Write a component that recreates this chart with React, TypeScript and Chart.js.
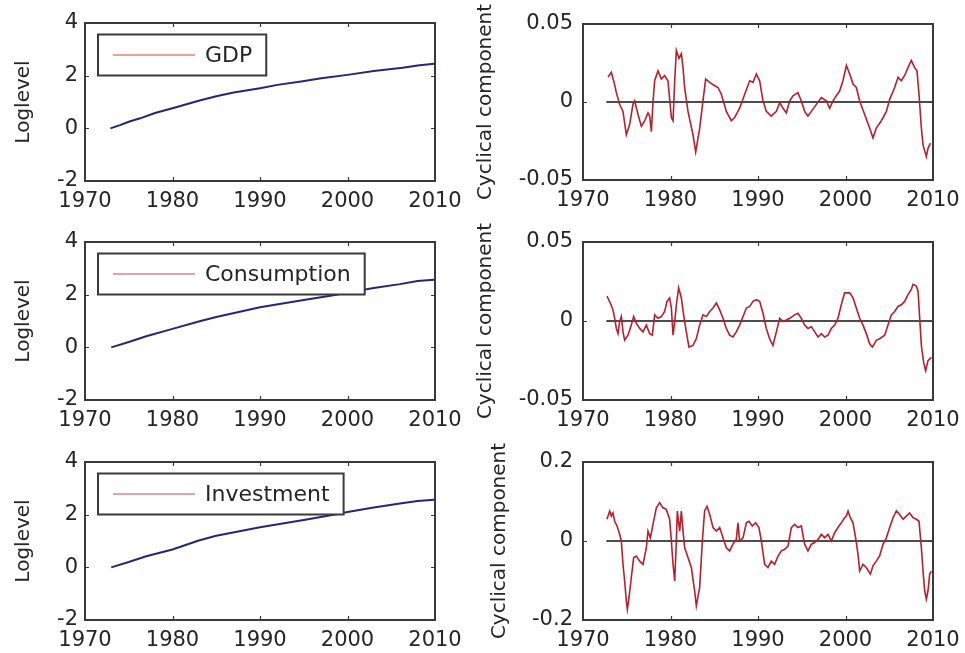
import React, { useEffect, useRef } from "react";
import { Chart, registerables } from "chart.js";
Chart.register(...registerables);

// ---------- data ----------
const xTickValues = [1970, 1980, 1990, 2000, 2010];

const gdpLevelYears = [1972.9, 1974, 1975, 1976.3, 1978, 1980, 1982, 1983.1, 1985, 1987, 1990, 1992, 1994.7, 1997, 2000, 2003, 2006.3, 2008, 2009.9];
const gdpLevel = [0, 0.12, 0.25, 0.38, 0.58, 0.76, 0.95, 1.06, 1.22, 1.36, 1.52, 1.65, 1.78, 1.9, 2.03, 2.18, 2.3, 2.39, 2.45];

const consLevelYears = [1973, 1975, 1977, 1980, 1983, 1985, 1990, 1995, 1998.4, 2000, 2003, 2006, 2008, 2009.9];
const consLevel = [0, 0.2, 0.42, 0.7, 0.98, 1.15, 1.52, 1.8, 1.98, 2.08, 2.25, 2.4, 2.52, 2.57];

const invLevelYears = [1973, 1975, 1977, 1980, 1983, 1985, 1990, 1995, 1998.4, 2000, 2003, 2006, 2008, 2009.9];
const invLevel = [0, 0.2, 0.42, 0.68, 1.02, 1.2, 1.52, 1.8, 2.0, 2.1, 2.27, 2.42, 2.52, 2.57];

const gdpCycleYears = [1972.86, 1973.24, 1973.62, 1973.81, 1974.19, 1974.57, 1974.95, 1975.33, 1975.71, 1975.9, 1976.29, 1976.67, 1977.05, 1977.43, 1977.62, 1977.81, 1978.0, 1978.19, 1978.57, 1978.95, 1979.33, 1979.71, 1980.1, 1980.29, 1980.48, 1980.67, 1980.97, 1981.24, 1981.43, 1981.62, 1982.0, 1982.57, 1982.88, 1983.33, 1983.71, 1984.02, 1984.48, 1985.05, 1985.43, 1985.81, 1986.38, 1986.95, 1987.33, 1987.9, 1988.48, 1989.05, 1989.43, 1989.81, 1990.19, 1990.57, 1990.95, 1991.52, 1992.1, 1992.48, 1992.86, 1993.24, 1993.62, 1994.0, 1994.57, 1994.95, 1995.33, 1995.71, 1996.1, 1996.67, 1997.24, 1997.81, 1998.19, 1998.57, 1998.95, 1999.33, 1999.71, 2000.1, 2000.48, 2000.86, 2001.24, 2001.62, 2002.19, 2002.76, 2003.14, 2003.52, 2004.1, 2004.67, 2005.05, 2005.62, 2006.0, 2006.38, 2006.76, 2007.14, 2007.52, 2007.9, 2008.17, 2008.4, 2008.67, 2008.86, 2009.24, 2009.43, 2009.7];
const gdpCycle = [0.016, 0.019, 0.011, 0.006, -0.0015, -0.006, -0.021, -0.0145, -0.0015, 0.0007, -0.008, -0.0156, -0.012, -0.007, -0.009, -0.019, 0, 0.0136, 0.02, 0.0147, 0.017, 0.0136, -0.01, -0.012, 0.0136, 0.033, 0.028, 0.031, 0.022, 0.009, -0.006, -0.021, -0.032, -0.017, 0.0007, 0.0147, 0.0126, 0.0104, 0.0093, 0.005, -0.006, -0.012, -0.01, -0.004, 0.005, 0.0136, 0.0126, 0.018, 0.0136, 0.0007, -0.006, -0.009, -0.006, -0.0005, -0.004, -0.007, 0.0007, 0.004, 0.006, 0.0007, -0.006, -0.009, -0.006, -0.0015, 0.0028, 0.0007, -0.004, 0.0007, 0.004, 0.007, 0.0136, 0.0234, 0.018, 0.0115, 0.0093, 0.0007, -0.008, -0.0167, -0.023, -0.0167, -0.012, -0.006, 0.0017, 0.0093, 0.0158, 0.0136, 0.017, 0.022, 0.0266, 0.022, 0.02, 0.005, -0.0167, -0.0275, -0.035, -0.0297, -0.0264];

const consCycleYears = [1972.74, 1973.12, 1973.43, 1973.62, 1973.81, 1974.0, 1974.19, 1974.38, 1974.57, 1974.76, 1975.14, 1975.52, 1975.79, 1976.1, 1976.48, 1976.86, 1977.24, 1977.62, 1977.92, 1978.19, 1978.57, 1978.95, 1979.33, 1979.6, 1979.9, 1980.1, 1980.29, 1980.48, 1980.67, 1980.93, 1981.24, 1981.5, 1981.81, 1982.11, 1982.57, 1982.95, 1983.33, 1983.71, 1984.1, 1984.48, 1984.86, 1985.24, 1985.62, 1986.0, 1986.38, 1986.76, 1987.14, 1987.52, 1987.9, 1988.29, 1988.67, 1989.05, 1989.43, 1989.81, 1990.19, 1990.57, 1990.95, 1991.33, 1991.71, 1992.1, 1992.48, 1992.86, 1993.24, 1993.62, 1994.19, 1994.57, 1994.95, 1995.33, 1995.71, 1996.1, 1996.48, 1996.86, 1997.24, 1997.62, 1998.0, 1998.38, 1998.76, 1999.14, 1999.52, 1999.9, 2000.48, 2000.86, 2001.24, 2001.62, 2002.0, 2002.38, 2002.76, 2003.07, 2003.52, 2003.9, 2004.48, 2004.86, 2005.24, 2005.62, 2006.0, 2006.38, 2006.76, 2007.14, 2007.52, 2007.71, 2008.1, 2008.29, 2008.48, 2008.67, 2008.93, 2009.16, 2009.43, 2009.81];
const consCycle = [0.0157, 0.0114, 0.007, 0.0017, -0.0047, -0.008, -0.0004, 0.0028, -0.0069, -0.0122, -0.009, -0.0026, 0.0028, -0.0015, -0.0047, -0.0069, -0.0026, -0.008, -0.009, 0.0039, 0.0017, 0.0028, 0.006, 0.0124, 0.0146, 0.0082, -0.009, -0.0004, 0.0103, 0.021, 0.0146, 0.0039, -0.0069, -0.0165, -0.0155, -0.0112, -0.0026, 0.0039, 0.0028, 0.006, 0.0082, 0.0114, 0.007, 0.0017, -0.0047, -0.009, -0.0101, -0.0069, -0.0026, 0.0028, 0.0082, 0.0092, 0.0124, 0.0135, 0.0124, 0.0049, -0.0047, -0.0112, -0.0155, -0.0069, 0.0017, -0.0004, 0.0006, 0.0017, 0.0039, 0.0049, 0.0017, -0.0026, -0.0047, -0.0036, -0.0069, -0.0101, -0.008, -0.0101, -0.009, -0.0047, -0.0026, 0.0017, 0.0103, 0.0178, 0.0178, 0.0146, 0.0082, 0.0017, -0.0026, -0.008, -0.0144, -0.0165, -0.0122, -0.0112, -0.009, -0.0026, 0.0039, 0.006, 0.0092, 0.0103, 0.0124, 0.0167, 0.02, 0.0232, 0.0221, 0.0189, 0.0017, -0.0155, -0.0262, -0.0315, -0.0251, -0.023];

const invCycleYears = [1972.74, 1973.05, 1973.24, 1973.43, 1973.62, 1973.89, 1974.19, 1974.38, 1974.57, 1974.76, 1974.95, 1975.07, 1975.26, 1975.52, 1975.79, 1976.1, 1976.48, 1976.86, 1977.24, 1977.43, 1977.7, 1978.0, 1978.38, 1978.76, 1979.14, 1979.52, 1979.9, 1980.1, 1980.29, 1980.48, 1980.67, 1980.78, 1981.05, 1981.24, 1981.43, 1981.62, 1982.0, 1982.38, 1982.76, 1982.95, 1983.33, 1983.64, 1983.9, 1984.17, 1984.48, 1984.86, 1985.24, 1985.62, 1986.0, 1986.38, 1986.76, 1987.14, 1987.52, 1987.71, 1987.9, 1988.29, 1988.67, 1988.97, 1989.35, 1989.73, 1990.11, 1990.38, 1990.76, 1991.14, 1991.52, 1991.9, 1992.29, 1992.67, 1993.05, 1993.43, 1993.81, 1994.19, 1994.57, 1994.95, 1995.33, 1995.71, 1996.1, 1996.48, 1996.86, 1997.24, 1997.62, 1998.0, 1998.38, 1998.76, 1999.14, 1999.52, 1999.9, 2000.1, 2000.29, 2000.55, 2000.86, 2001.16, 2001.43, 2001.62, 2002.0, 2002.38, 2002.84, 2003.14, 2003.52, 2003.9, 2004.29, 2004.67, 2005.05, 2005.43, 2005.81, 2006.19, 2006.57, 2006.95, 2007.33, 2007.71, 2008.1, 2008.4, 2008.67, 2008.86, 2009.05, 2009.24, 2009.43, 2009.62, 2009.81];
const invCycle = [0.055, 0.076, 0.063, 0.071, 0.05, 0.038, 0.017, 0, -0.059, -0.101, -0.152, -0.173, -0.143, -0.093, -0.042, -0.038, -0.051, -0.059, -0.017, 0.025, 0.008, 0.042, 0.084, 0.097, 0.084, 0.08, 0.055, 0, -0.059, -0.101, 0, 0.076, 0.025, 0.076, 0.025, -0.017, -0.042, -0.067, -0.126, -0.164, -0.118, 0, 0.076, 0.088, 0.067, 0.034, 0.025, 0.034, 0.008, -0.017, -0.025, -0.008, 0.004, 0.046, 0, 0.008, 0.046, 0.05, 0.038, 0.046, 0.034, 0, -0.059, -0.067, -0.051, -0.059, -0.038, -0.025, -0.021, -0.013, 0.034, 0.042, 0.034, 0.038, -0.008, -0.025, -0.008, -0.004, 0.004, 0.017, 0.008, 0.017, 0, 0.021, 0.034, 0.046, 0.059, 0.063, 0.076, 0.059, 0.046, 0.008, -0.034, -0.076, -0.059, -0.067, -0.084, -0.063, -0.051, -0.038, -0.008, 0.008, 0.034, 0.059, 0.076, 0.067, 0.055, 0.063, 0.071, 0.059, 0.055, 0.05, -0.017, -0.076, -0.126, -0.147, -0.126, -0.084, -0.076];

const zeroLineYears = [1972.67, 2009.92];
const zeroLineValues = [0, 0];

// ---------- styling ----------
const TICK_FONT = { family: "DejaVu Sans", size: 21 };
const TITLE_FONT = { family: "DejaVu Sans", size: 20 };
const TEXT_COLOR = "#262626";
const FRAME_COLOR = "#3a3a3a";
const LEVEL_COLOR = "#262678";
const CYCLE_COLOR = "#b81e2c";

const zip = (xs: number[], ys: number[]) => xs.map((x, i) => ({ x, y: ys[i] }));

const framePlugin = {
  id: "frame",
  afterDraw(chart: any, _args: any, opts: any) {
    const { ctx, chartArea: a, scales } = chart;
    ctx.save();
    ctx.strokeStyle = FRAME_COLOR;
    ctx.lineWidth = 1.2;
    const tl = 4;
    for (const t of scales.x.ticks) {
      const px = Math.round(scales.x.getPixelForValue(t.value)) + 0.5;
      if (px - a.left < 3 || a.right - px < 3) continue;
      ctx.beginPath();
      ctx.moveTo(px, a.bottom);
      ctx.lineTo(px, a.bottom - tl);
      ctx.moveTo(px, a.top);
      ctx.lineTo(px, a.top + tl);
      ctx.stroke();
    }
    for (const t of scales.y.ticks) {
      const py = Math.round(scales.y.getPixelForValue(t.value)) + 0.5;
      if (py - a.top < 3 || a.bottom - py < 3) continue;
      ctx.beginPath();
      ctx.moveTo(a.left, py);
      ctx.lineTo(a.left + tl, py);
      ctx.moveTo(a.right, py);
      ctx.lineTo(a.right - tl, py);
      ctx.stroke();
    }
    if (opts && opts.legend) {
      ctx.font = '22px "DejaVu Sans"';
      const w = ctx.measureText(opts.legend).width;
      const bx = a.left + 13;
      const by = a.top + 11.5;
      const bw = 107 + w + 14;
      const bh = 41;
      ctx.fillStyle = "#ffffff";
      ctx.fillRect(bx, by, bw, bh);
      ctx.lineWidth = 2;
      ctx.strokeStyle = FRAME_COLOR;
      ctx.strokeRect(bx, by, bw, bh);
      ctx.beginPath();
      ctx.strokeStyle = "#d04848";
      ctx.lineWidth = 1.2;
      ctx.moveTo(bx + 15, by + bh / 2);
      ctx.lineTo(bx + 97, by + bh / 2);
      ctx.stroke();
      ctx.fillStyle = TEXT_COLOR;
      ctx.textBaseline = "middle";
      ctx.textAlign = "left";
      ctx.fillText(opts.legend, bx + 107, by + bh / 2 + 1);
    }
    ctx.lineWidth = 2;
    ctx.strokeStyle = FRAME_COLOR;
    ctx.strokeRect(a.left, a.top, a.right - a.left, a.bottom - a.top);
    ctx.restore();
  },
};

type PanelProps = {
  canvasLeft: number;
  canvasTop: number;
  canvasWidth: number;
  canvasHeight: number;
  plotLeft: number;
  plotTop: number;
  plotRight: number;
  plotBottom: number;
  yMin: number;
  yMax: number;
  yStep: number;
  yTickPad: number;
  yTitle: string;
  yTitlePad: number;
  datasets: any[];
  legend?: string;
};

function Panel(p: PanelProps) {
  const ref = useRef<HTMLCanvasElement>(null);
  useEffect(() => {
    const yAxisW = p.plotLeft - p.canvasLeft;
    const xAxisH = p.canvasTop + p.canvasHeight - p.plotBottom;
    const chart = new Chart(ref.current as HTMLCanvasElement, {
      type: "line",
      data: { datasets: p.datasets },
      options: {
        animation: false,
        responsive: false,
        devicePixelRatio: 1,
        layout: {
          padding: {
            left: 0,
            top: p.plotTop - p.canvasTop,
            right: p.canvasLeft + p.canvasWidth - p.plotRight,
            bottom: 0,
          },
        },
        plugins: {
          legend: { display: false },
          tooltip: { enabled: false },
          frame: { legend: p.legend },
        } as any,
        elements: { point: { radius: 0 }, line: { tension: 0 } },
        scales: {
          x: {
            type: "linear",
            min: 1970,
            max: 2010,
            grid: { display: false, drawTicks: false },
            border: { display: false },
            afterBuildTicks: (s: any) => {
              s.ticks = xTickValues.map((v) => ({ value: v }));
            },
            ticks: {
              padding: 8,
              font: TICK_FONT,
              color: TEXT_COLOR,
              maxRotation: 0,
              autoSkip: false,
              callback: (v: any) => String(v),
            },
            afterFit: (s: any) => {
              s.height = xAxisH;
              s.paddingLeft = 0;
              s.paddingRight = 0;
            },
          },
          y: {
            type: "linear",
            min: p.yMin,
            max: p.yMax,
            grid: { display: false, drawTicks: false },
            border: { display: false },
            ticks: {
              stepSize: p.yStep,
              padding: p.yTickPad,
              font: TICK_FONT,
              color: TEXT_COLOR,
              callback: (v: any) => String(Math.round(Number(v) * 1000) / 1000),
            },
            title: {
              display: true,
              text: p.yTitle,
              font: TITLE_FONT,
              color: TEXT_COLOR,
              padding: { top: p.yTitlePad, bottom: 0 },
            },
            afterFit: (s: any) => {
              s.width = yAxisW;
              s.paddingTop = 0;
              s.paddingBottom = 0;
            },
          },
        },
      } as any,
      plugins: [framePlugin as any],
    });
    return () => chart.destroy();
  }, []);
  return (
    <canvas
      ref={ref}
      width={p.canvasWidth}
      height={p.canvasHeight}
      style={{
        position: "absolute",
        left: p.canvasLeft,
        top: p.canvasTop,
        width: p.canvasWidth,
        height: p.canvasHeight,
      }}
    />
  );
}

const levelDataset = (label: string, xs: number[], ys: number[]) => ({
  label,
  data: zip(xs, ys),
  borderColor: LEVEL_COLOR,
  borderWidth: 2,
  pointRadius: 0,
  fill: false,
});

const cycleDatasets = (label: string, xs: number[], ys: number[]) => [
  {
    label,
    data: zip(xs, ys),
    borderColor: CYCLE_COLOR,
    borderWidth: 1.6,
    pointRadius: 0,
    fill: false,
  },
  {
    label: "zero",
    data: zip(zeroLineYears, zeroLineValues),
    borderColor: "#111111",
    borderWidth: 1.5,
    pointRadius: 0,
    fill: false,
  },
];

const rows = [
  { top: 23, bottom: 181, rTop: 24, rBottom: 180, canvasTop: 0 },
  { top: 242, bottom: 400, rTop: 242, rBottom: 400, canvasTop: 218 },
  { top: 462, bottom: 620, rTop: 462, rBottom: 620, canvasTop: 438 },
];

export default function App() {
  const leftData = [
    { legend: "GDP", ds: [levelDataset("GDP", gdpLevelYears, gdpLevel)] },
    { legend: "Consumption", ds: [levelDataset("Consumption", consLevelYears, consLevel)] },
    { legend: "Investment", ds: [levelDataset("Investment", invLevelYears, invLevel)] },
  ];
  const rightData = [
    { ds: cycleDatasets("GDP cycle", gdpCycleYears, gdpCycle), lim: 0.05, titlePad: 4 },
    { ds: cycleDatasets("Consumption cycle", consCycleYears, consCycle), lim: 0.05, titlePad: 4 },
    { ds: cycleDatasets("Investment cycle", invCycleYears, invCycle), lim: 0.2, titlePad: 18 },
  ];
  return (
    <div
      style={{
        position: "fixed",
        left: 0,
        top: 0,
        width: 965,
        height: 653,
        background: "#ffffff",
        overflow: "hidden",
      }}
    >
      {rows.map((r, i) => (
        <React.Fragment key={i}>
          <Panel
            canvasLeft={0}
            canvasTop={r.canvasTop}
            canvasWidth={462}
            canvasHeight={215}
            plotLeft={85}
            plotTop={r.top}
            plotRight={435}
            plotBottom={r.bottom}
            yMin={-2}
            yMax={4}
            yStep={2}
            yTickPad={7}
            yTitle="Loglevel"
            yTitlePad={12}
            datasets={leftData[i].ds}
            legend={leftData[i].legend}
          />
          <Panel
            canvasLeft={470}
            canvasTop={r.canvasTop}
            canvasWidth={495}
            canvasHeight={215}
            plotLeft={583}
            plotTop={r.rTop}
            plotRight={933}
            plotBottom={r.rBottom}
            yMin={-rightData[i].lim}
            yMax={rightData[i].lim}
            yStep={rightData[i].lim}
            yTickPad={10}
            yTitle="Cyclical component"
            yTitlePad={rightData[i].titlePad}
            datasets={rightData[i].ds}
          />
        </React.Fragment>
      ))}
    </div>
  );
}
